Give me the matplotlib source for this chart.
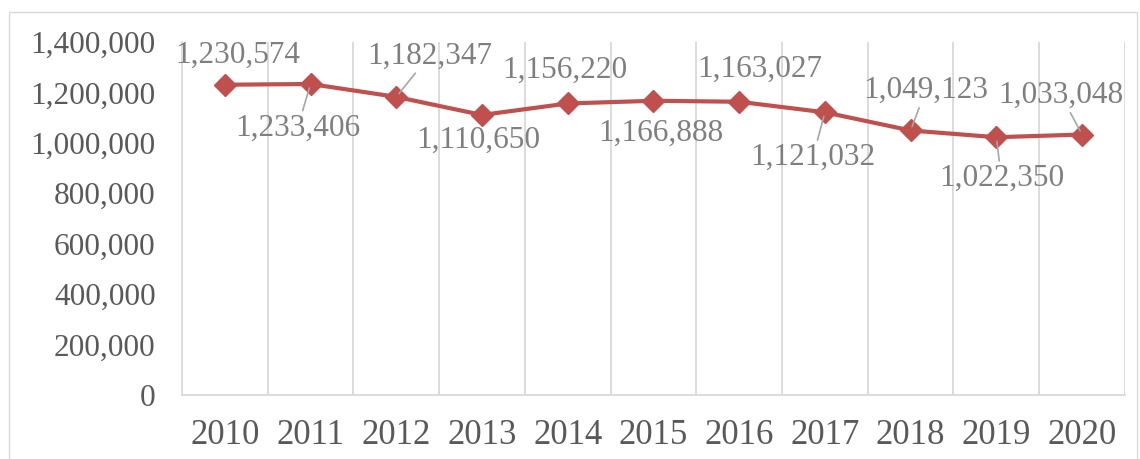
import matplotlib.pyplot as plt
from matplotlib.patches import Rectangle

# Data
years = ["2010", "2011", "2012", "2013", "2014", "2015", "2016", "2017", "2018", "2019", "2020"]
values = [1230574, 1233406, 1182347, 1110650, 1156220, 1166888, 1163027, 1121032, 1049123, 1022350, 1033048]

# label offsets (pixels) and whether a leader line is drawn
offsets = [(13, 29), (-13, -44), (33, 41), (-4, -25), (-3, 33), (7, -33),
           (21, 32), (-12, -45), (15, 40), (5, -41), (-21, 39)]
leaders = [False, True, True, False, False, False, False, True, True, True, True]

plt.rcParams['font.family'] = ['Liberation Serif', 'DejaVu Serif']

fig = plt.figure(figsize=(11.4, 4.59), dpi=100)
ax = fig.add_axes([0.1596, 0.1394, 0.9868 - 0.1596, 0.9085 - 0.1394])

x = list(range(len(years)))
ax.plot(x, values, color="#C0504D", linewidth=3, marker="D", markersize=11,
        markerfacecolor="#C0504D", markeredgecolor="#C0504D", zorder=3)

for i, v in enumerate(values):
    dx, dy = offsets[i]
    kw = {}
    if leaders[i]:
        kw["arrowprops"] = dict(arrowstyle="-", color="#a6a6a6", lw=1.2,
                                shrinkA=0, shrinkB=3)
    ax.annotate(f"{v:,}", (i, v), xytext=(dx, dy), textcoords="offset pixels",
                ha="center", va="center", fontsize=22.5, color="#7f7f7f", **kw)

ax.set_xlim(-0.5, len(years) - 0.5)
ax.set_ylim(0, 1400000)
ax.set_yticks(range(0, 1400001, 200000))
ax.set_yticklabels([f"{t:,}" for t in range(0, 1400001, 200000)])
ax.set_xticks(x)
ax.set_xticklabels(years)
ax.tick_params(axis="y", length=0, labelsize=22.5, labelcolor="#595959", pad=19)
ax.tick_params(axis="x", length=0, labelsize=25, labelcolor="#595959", pad=17)

# vertical gridlines between categories
for b in range(1, len(years) + 1):
    ax.axvline(b - 0.5, color="#d9d9d9", linewidth=1.3, zorder=1)

for s in ["top", "right"]:
    ax.spines[s].set_visible(False)
ax.spines["left"].set_color("#d9d9d9")
ax.spines["bottom"].set_color("#d9d9d9")
ax.spines["left"].set_linewidth(1.3)
ax.spines["bottom"].set_linewidth(1.3)

# outer chart border
fig.patches.append(Rectangle((9 / 1140, -0.01), 1128 / 1140, 1 - 12 / 459 + 0.01,
                             transform=fig.transFigure, fill=False,
                             edgecolor="#d9d9d9", linewidth=1))

fig.savefig("out.png", dpi=100)
